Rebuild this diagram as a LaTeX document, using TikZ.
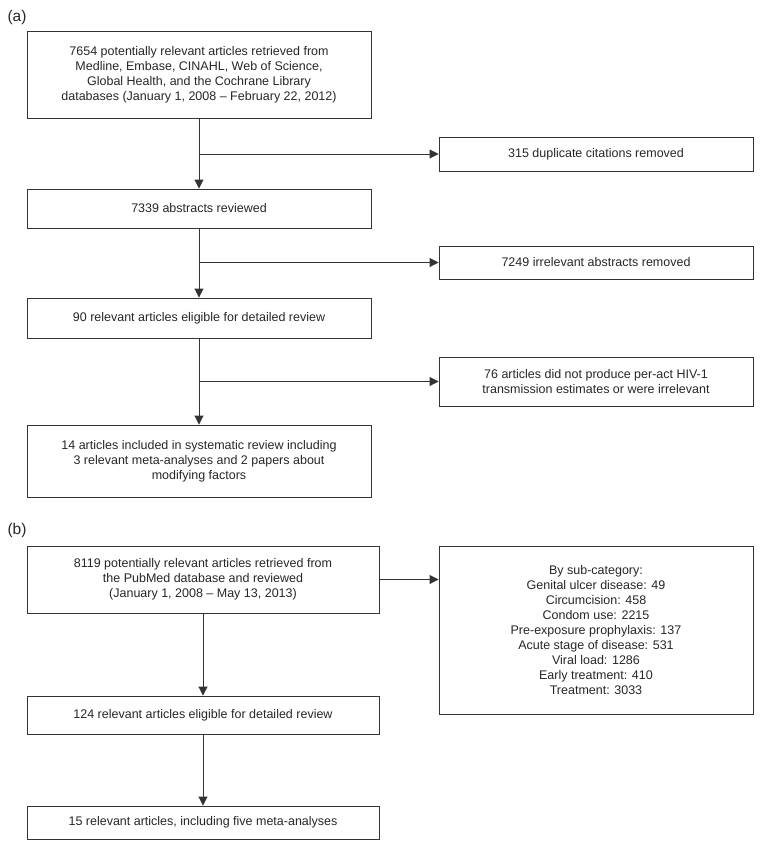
\documentclass[tikz,border=0pt]{standalone}
\usepackage{fontspec}
\setmainfont{Liberation Sans}
\usetikzlibrary{arrows.meta}

\tikzset{
    box/.style={shape=rectangle, draw=black!80, line width=0.9pt, text=black!85,
        align=center, inner sep=2pt, font=\fontsize{12.5}{15}\selectfont},
    flow/.style={-{Triangle[length=9pt,width=9pt]}, color=black!80, line width=0.9pt},
    panel/.style={text=black!85, inner sep=0pt, font=\fontsize{15.5}{18}\selectfont}
}

\begin{document}
\begin{tikzpicture}[x=1pt, y=-1pt]
    \useasboundingbox (0,0) rectangle (762,849);
    % (a)
    \node[panel] at (17,17.5) (La) {(a)};
    \node[box, minimum width=344, minimum height=87] at (199,74.5) (A1) {7654 potentially relevant articles retrieved from\\Medline, Embase, CINAHL, Web of Science,\\Global Health, and the Cochrane Library\\databases (January 1, 2008 \textendash\ February 22, 2012)};
    \node[box, minimum width=344, minimum height=39] at (199,208.5) (A2) {7339 abstracts reviewed};
    \node[box, minimum width=344, minimum height=40] at (199,318) (A3) {90 relevant articles eligible for detailed review};
    \node[box, minimum width=344, minimum height=72] at (199,461) (A4) {14 articles included in systematic review including\\3 relevant meta-analyses and 2 papers about\\modifying factors};
    \node[box, minimum width=314, minimum height=34] at (596,154) (R1) {315 duplicate citations removed};
    \node[box, minimum width=314, minimum height=33] at (596,262.5) (R2) {7249 irrelevant abstracts removed};
    \node[box, minimum width=314, minimum height=49] at (596,381.5) (R3) {76 articles did not produce per-act HIV-1\\transmission estimates or were irrelevant};
    \coordinate (S1) at (A1.south |- R1);
    \coordinate (S2) at (A1.south |- R2);
    \coordinate (S3) at (A1.south |- R3);
    \path [flow] (A1) edge (A2);
    \path [flow] (A2) edge (A3);
    \path [flow] (A3) edge (A4);
    \path [flow] (S1) edge (R1);
    \path [flow] (S2) edge (R2);
    \path [flow] (S3) edge (R3);
    % (b)
    \node[panel] at (17,530) (Lb) {(b)};
    \node[box, minimum width=352, minimum height=67] at (203,579.5) (B1) {8119 potentially relevant articles retrieved from\\the PubMed database and reviewed\\(January 1, 2008 \textendash\ May 13, 2013)};
    \node[box, minimum width=352, minimum height=38] at (203,715) (B2) {124 relevant articles eligible for detailed review};
    \node[box, minimum width=352, minimum height=33] at (203,822.5) (B3) {15 relevant articles, including five meta-analyses};
    \node[box, minimum width=314, minimum height=168] at (596,630) (Rb) {By sub-category:\\Genital ulcer disease: 49\\Circumcision: 458\\Condom use: 2215\\Pre-exposure prophylaxis: 137\\Acute stage of disease: 531\\Viral load: 1286\\Early treatment: 410\\Treatment: 3033};
    \coordinate (Bin) at (B1 -| Rb.west);
    \path [flow] (B1) edge (Bin);
    \path [flow] (B1) edge (B2);
    \path [flow] (B2) edge (B3);
\end{tikzpicture}
\end{document}
